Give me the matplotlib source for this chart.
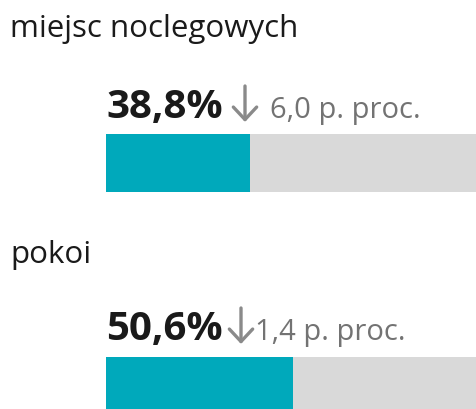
import matplotlib
matplotlib.use("Agg")
import matplotlib.pyplot as plt

categories = ["miejsc noclegowych", "pokoi"]
values = [38.8, 50.6]
value_labels = ["38,8%", "50,6%"]
change_labels = ["6,0 p. proc.", "1,4 p. proc."]

W, H = 476, 409
fig = plt.figure(figsize=(W / 100, H / 100), dpi=100)
fig.patch.set_facecolor("white")

FONT = "Open Sans"
TEAL = "#00A9BB"
GRAY_BAR = "#D9D9D9"
DARK = "#1A1A1A"
GRAY_TXT = "#737373"
ARROW = "#8A8A8A"

def fx(px):
    return px / W

def fy(py):
    return 1 - py / H

# layout per row (pixels from top)
rows = [
    dict(label_base=37, val_base=118, bar_top=134, bar_bot=192,
         arrow_x=245, arrow_top=86, arrow_bot=122, chg_x=270),
    dict(label_base=263, val_base=340, bar_top=357, bar_bot=409,
         arrow_x=241, arrow_top=308, arrow_bot=344, chg_x=255),
]

for cat, v, vl, cl, r in zip(categories, values, value_labels, change_labels, rows):
    fig.text(fx(10), fy(r["label_base"]), cat, family=FONT, fontsize=22.5,
             color=DARK, va="baseline", ha="left")
    fig.text(fx(106), fy(r["val_base"]), vl, family=FONT, fontsize=29,
             weight="bold", color=DARK, va="baseline", ha="left")
    fig.patches  # noqa
    ann = fig.add_artist(plt.Annotation(
        "", xy=(r["arrow_x"], H - r["arrow_bot"]),
        xytext=(r["arrow_x"], H - r["arrow_top"]),
        xycoords="figure pixels", textcoords="figure pixels",
        arrowprops=dict(arrowstyle="->,head_length=0.45,head_width=0.42",
                        lw=2.4, color=ARROW, mutation_scale=20,
                        shrinkA=0, shrinkB=0)))
    fig.text(fx(r["chg_x"]), fy(r["val_base"]), cl, family=FONT, fontsize=21,
             color=GRAY_TXT, va="baseline", ha="left")
    ax = fig.add_axes([fx(106), fy(r["bar_bot"]), fx(476 - 106),
                       (r["bar_bot"] - r["bar_top"]) / H])
    ax.barh([0], [100], height=1, color=GRAY_BAR, left=0)
    ax.barh([0], [v], height=1, color=TEAL, left=0)
    ax.set_xlim(0, 100)
    ax.set_ylim(-0.5, 0.5)
    ax.axis("off")

fig.savefig("out.png", dpi=100, facecolor="white")
